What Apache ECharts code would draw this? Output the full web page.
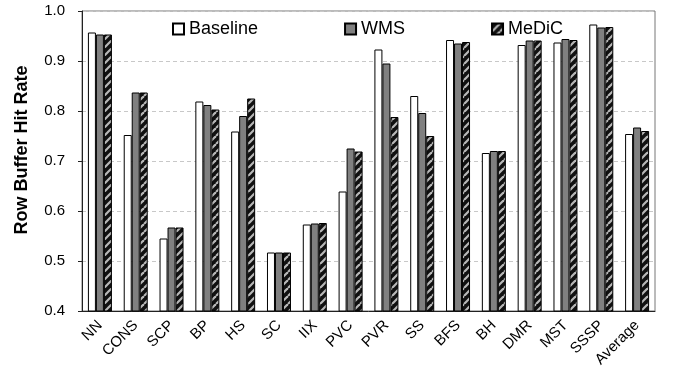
<!DOCTYPE html>
<html>
<head>
<meta charset="utf-8">
<script src="https://cdn.jsdelivr.net/npm/echarts@6/dist/echarts.min.js"></script>
<style>html,body{margin:0;padding:0;background:#fff}#c{width:674px;height:372px}</style>
</head>
<body>
<div id="c"></div>
<script>
const categories = ['NN','CONS','SCP','BP','HS','SC','IIX','PVC','PVR','SS','BFS','BH','DMR','MST','SSSP','Average'];
const baseline = [0.957,0.752,0.545,0.819,0.759,0.517,0.573,0.639,0.923,0.830,0.942,0.716,0.932,0.937,0.973,0.754];
const wms      = [0.953,0.837,0.567,0.812,0.790,0.517,0.575,0.725,0.895,0.796,0.935,0.720,0.941,0.944,0.967,0.767];
const medic    = [0.953,0.837,0.567,0.803,0.825,0.517,0.576,0.719,0.788,0.750,0.938,0.720,0.941,0.942,0.968,0.760];
const yTicks = [0.4,0.5,0.6,0.7,0.8,0.9,1.0];

function hatch(){
  const s = 8;
  const c = document.createElement('canvas');
  c.width = s; c.height = s;
  const g = c.getContext('2d');
  g.fillStyle = '#111'; g.fillRect(0,0,s,s);
  g.strokeStyle = '#b8b8b8'; g.lineWidth = 2.2;
  for (let k=-s;k<=2*s;k+=s){
    g.beginPath(); g.moveTo(k,s); g.lineTo(k+s,0); g.stroke();
  }
  return c;
}
const pat = {image: hatch(), repeat: 'repeat'};

const chart = echarts.init(document.getElementById('c'));
const font = 'Arial, "Liberation Sans", Helvetica, sans-serif';
chart.setOption({
  animation: false,
  textStyle: {fontFamily: font},
  grid: {left: 82, right: 19, top: 11, bottom: 61, show: true, borderColor: '#777', borderWidth: 1},
  legend: {
    left: 167, top: 15, itemWidth: 11, itemHeight: 11, itemGap: 86, icon: 'rect',
    textStyle: {fontSize: 18, color: '#000', fontFamily: font},
    data: ['Baseline','WMS','MeDiC']
  },
  xAxis: {
    type: 'category', data: categories,
    axisLine: {lineStyle: {color: '#222', width: 1}},
    axisTick: {length: 5, lineStyle: {color: '#222'}},
    axisLabel: {rotate: 45, fontSize: 15, color: '#000', margin: 12, fontFamily: font}
  },
  yAxis: {
    type: 'value', min: 0.4, max: 1.0, interval: 0.1,
    name: 'Row Buffer Hit Rate', nameLocation: 'middle', nameGap: 51,
    nameTextStyle: {fontSize: 18, fontWeight: 'bold', color: '#000', fontFamily: font, padding: [0,0,0,22]},
    axisLine: {show: true, lineStyle: {color: '#222'}},
    axisTick: {show: true, length: 4, lineStyle: {color: '#222'}},
    axisLabel: {fontSize: 15, color: '#000', margin: 17, formatter: v => v.toFixed(1), fontFamily: font},
    splitLine: {lineStyle: {type: [4,3], color: '#c8c8c8'}}
  },
  series: [
    {name: 'Baseline', type: 'bar', data: baseline, barWidth: 8, barGap: '0%',
     itemStyle: {color: '#fff', borderColor: '#000', borderWidth: 1}},
    {name: 'WMS', type: 'bar', data: wms, barWidth: 8, barGap: '0%',
     itemStyle: {color: '#808080', borderColor: '#000', borderWidth: 1}},
    {name: 'MeDiC', type: 'bar', data: medic, barWidth: 8, barGap: '0%',
     itemStyle: {color: pat, borderColor: '#000', borderWidth: 1}}
  ]
});
</script>
</body>
</html>
